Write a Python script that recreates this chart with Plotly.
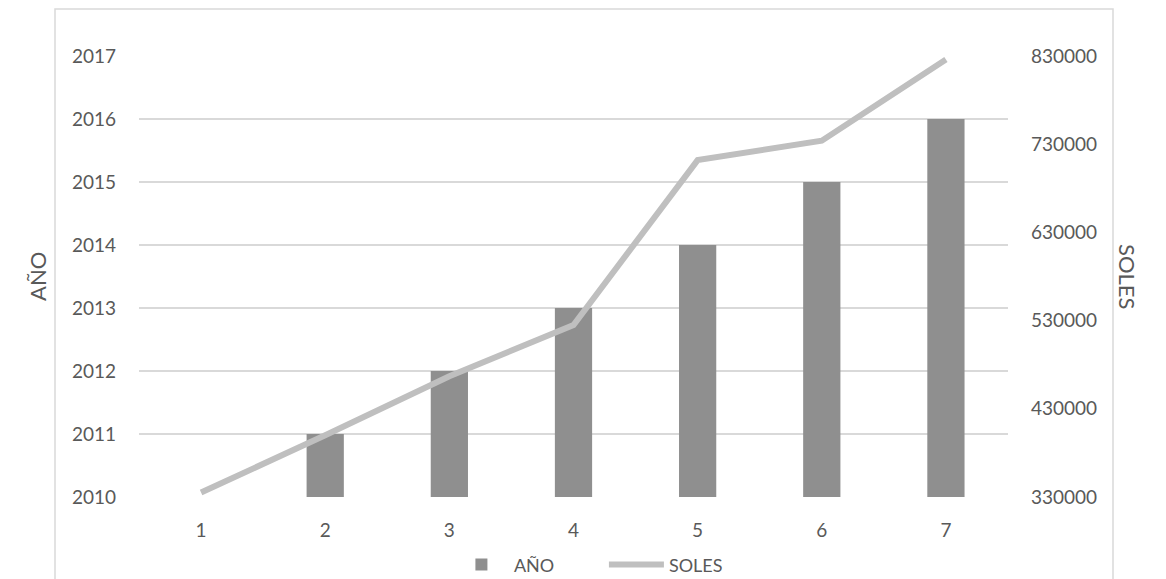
import plotly.graph_objects as go

categories = [1, 2, 3, 4, 5, 6, 7]
anio = [2010, 2011, 2012, 2013, 2014, 2015, 2016]
soles = [335000, 400000, 467000, 525000, 712000, 734000, 826000]
left_ticks = [2010, 2011, 2012, 2013, 2014, 2015, 2016, 2017]
right_ticks = [330000, 430000, 530000, 630000, 730000, 830000]

FONT = "Lato"
TXT = "#595959"
GRID = "#d9d9d9"

fig = go.Figure()
fig.add_trace(go.Bar(
    x=categories, y=anio, name="AÑO",
    marker=dict(color="#8f8f8f", line=dict(width=0)),
    yaxis="y",
))
fig.add_trace(go.Scatter(
    x=categories, y=soles, name="SOLES", mode="lines",
    line=dict(color="#bfbfbf", width=6),
    yaxis="y2",
))

# page body has an 8px margin; figure starts at page px (8, 8)
fig.update_layout(
    width=1150, height=579,
    margin=dict(l=131, r=150, t=48, b=90, autoexpand=False),
    paper_bgcolor="white", plot_bgcolor="white",
    font=dict(family=FONT, size=19, color=TXT),
    bargap=0.7,
    showlegend=True,
    legend=dict(orientation="h", x=0.535, xanchor="center", y=-0.154, yanchor="middle",
                font=dict(size=18, color=TXT), entrywidth=85, itemwidth=55),
    xaxis=dict(tickmode="array", tickvals=categories, ticktext=[str(c) for c in categories],
               showgrid=False, zeroline=False, showline=False, ticks="",
               ticklabelstandoff=20, range=[0.5, 7.5]),
    yaxis=dict(range=[2010, 2017], tickvals=left_ticks, ticktext=[str(t) for t in left_ticks],
               showgrid=True, gridcolor=GRID, gridwidth=1.5, zeroline=False, showline=False,
               ticks="", ticklabelstandoff=22),
    yaxis2=dict(range=[330000, 830000], tickvals=right_ticks, ticktext=[str(t) for t in right_ticks],
                overlaying="y", side="right", showgrid=False, zeroline=False, showline=False,
                ticks="", ticklabelstandoff=22),
    annotations=[
        dict(text="AÑO", xref="paper", yref="paper", x=(22 - 139) / 869, y=0.5,
             textangle=-90, showarrow=False, font=dict(size=22, color=TXT)),
        dict(text="SOLES", xref="paper", yref="paper", x=(1143 - 139) / 869, y=0.5,
             textangle=90, showarrow=False, font=dict(size=22, color=TXT)),
    ],
    shapes=[
        dict(type="rect", xref="paper", yref="paper",
             x0=(55 - 139) / 869, x1=(1113 - 139) / 869,
             y0=(497 - 600) / 441, y1=(497 - 9) / 441,
             line=dict(color=GRID, width=1.5), fillcolor="rgba(0,0,0,0)", layer="below"),
    ],
)

fig.write_html("out.html")
